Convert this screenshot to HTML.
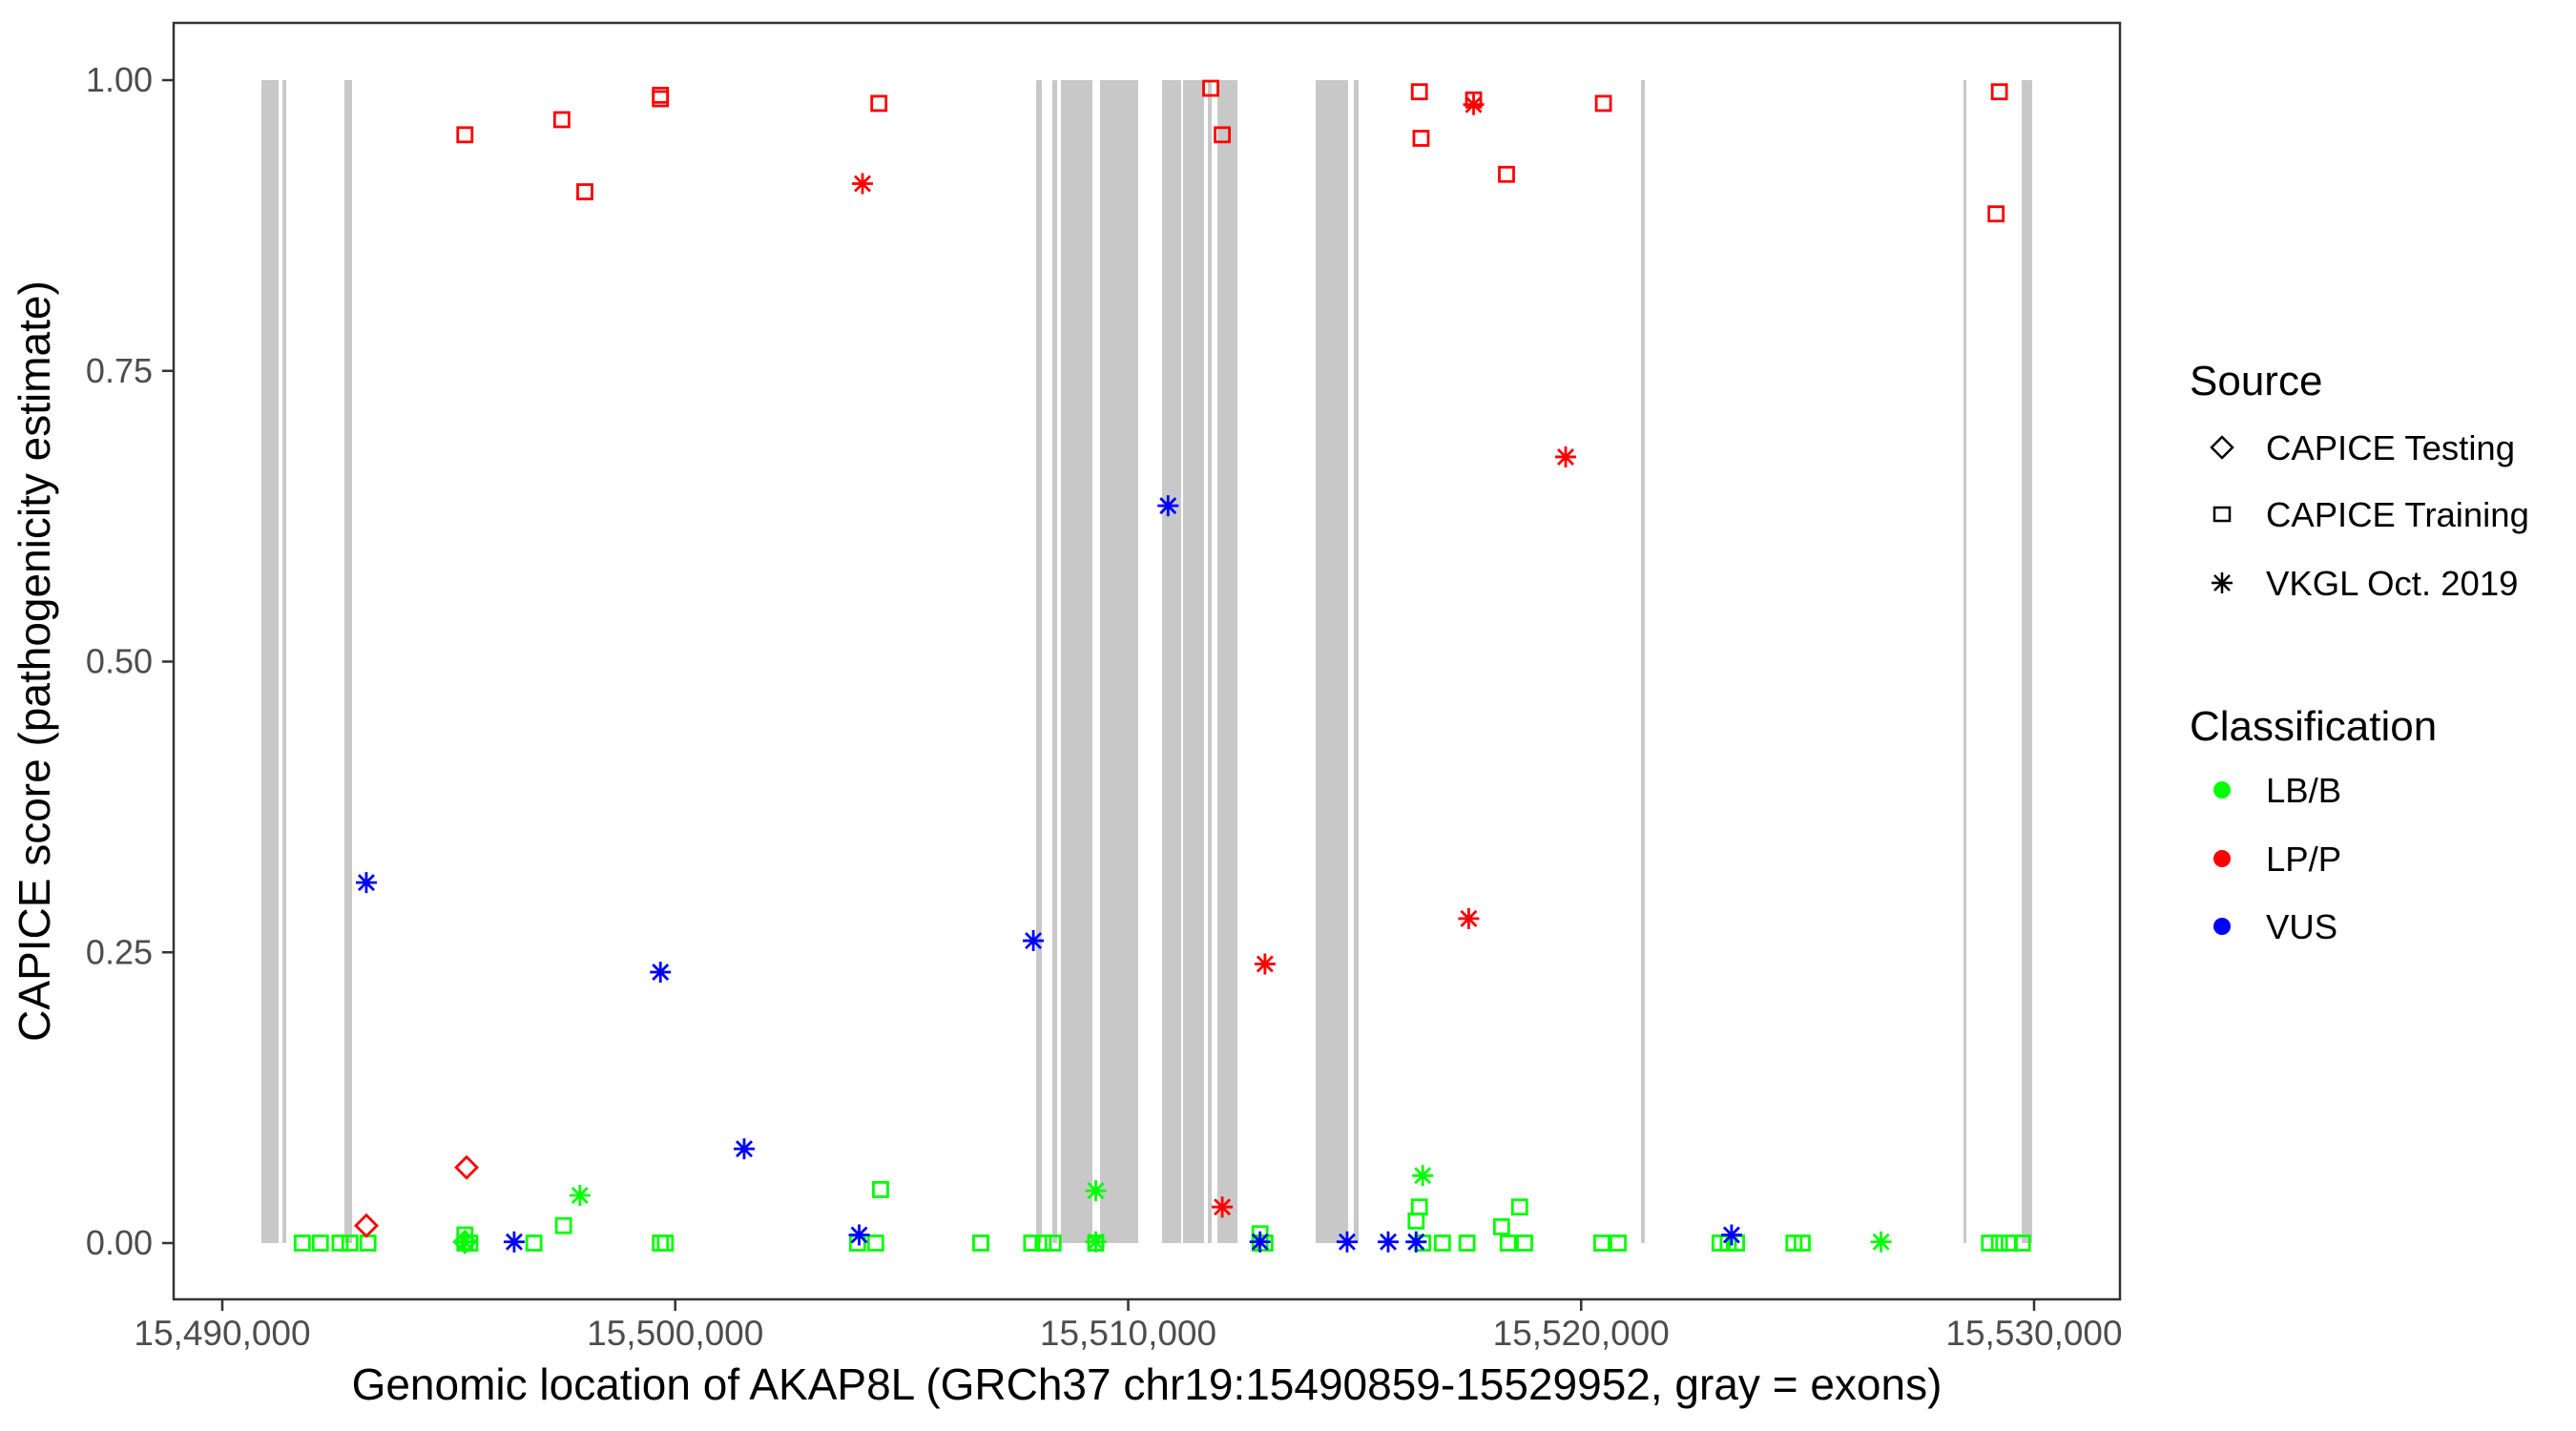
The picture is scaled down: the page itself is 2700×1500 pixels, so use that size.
<!DOCTYPE html>
<html><head><meta charset="utf-8"><style>
html,body{margin:0;padding:0;background:#fff;width:2700px;height:1500px;overflow:hidden}
svg{display:block;font-family:"Liberation Sans",Arial,sans-serif}
</style></head><body>
<svg id="chart" width="2700" height="1500" viewBox="0 0 2700 1500">
<rect x="0" y="0" width="2700" height="1500" fill="#fff"/>
<g id="exons"></g>
<g id="points"></g>
<rect x="182" y="24" width="2040" height="1338" fill="none" stroke="#333" stroke-width="2.5"/>
<g id="yaxis"></g>
<g id="xaxis"></g>
<text x="40" y="693" transform="rotate(-90 40 693)" text-anchor="middle" dominant-baseline="middle" font-size="46" fill="#000">CAPICE score (pathogenicity estimate)</text>
<text x="1202" y="1467" text-anchor="middle" font-size="46" fill="#000">Genomic location of AKAP8L (GRCh37 chr19:15490859-15529952, gray = exons)</text>
<g>
<text x="2295" y="414" font-size="44" fill="#000">Source</text>
<g>
<polygon points="2329,458 2340,469 2329,480 2318,469" fill="none" stroke="#000" stroke-width="2.5"/>
<text x="2375" y="482" font-size="36.5" fill="#000">CAPICE Testing</text></g>
<g>
<rect x="2321" y="532" width="16" height="14" fill="none" stroke="#000" stroke-width="2.5"/>
<text x="2375" y="552" font-size="36.5" fill="#000">CAPICE Training</text></g>
<g>
<path d="M2318,611 H2340 M2329,600 V622 M2321,603 L2337,619 M2337,603 L2321,619" stroke="#000" stroke-width="2.5"/>
<text x="2375" y="624" font-size="36.5" fill="#000">VKGL Oct. 2019</text></g>
<text x="2295" y="776" font-size="44" fill="#000">Classification</text>
<g><circle cx="2329" cy="828" r="9" fill="#00ff00"/><text x="2375" y="841" font-size="36.5" fill="#000">LB/B</text></g>
<g><circle cx="2329" cy="900" r="9" fill="#ff0000"/><text x="2375" y="913" font-size="36.5" fill="#000">LP/P</text></g>
<g><circle cx="2329" cy="971" r="9" fill="#0000ff"/><text x="2375" y="984" font-size="36.5" fill="#000">VUS</text></g>
</g>
</svg>
<script>
// Data (genomic position offsets from 15,490,000 and scores)
const exonStarts = [864,1327,2696,17968,18326,18515,19379,20748,21211,21759,21970,24139,24981,31322,38442,39727];
const exonEnds   = [1243,1411,2865,18094,18431,19210,20221,21169,21675,21843,22412,24855,25087,31407,38505,39959];
const yTicks = [0,0.25,0.5,0.75,1];
const yTickLabels = ["0.00","0.25","0.50","0.75","1.00"];
const xTicks = [15490000,15500000,15510000,15520000,15530000];
const xTickLabels = ["15,490,000","15,500,000","15,510,000","15,520,000","15,530,000"];

// LP/P (red)
const redSquarePos = [5356,7496,8004,9673,9673,14496,21823,22077,26429,26466,27626,28352,30492,39234,39161];
const redSquareScore = [0.953,0.966,0.904,0.987,0.984,0.980,0.993,0.953,0.990,0.950,0.983,0.919,0.980,0.990,0.885];
const redStarPos = [14134,27626,29658,27518,23020,22077];
const redStarScore = [0.911,0.979,0.676,0.279,0.240,0.031];
const redDiamondPos = [3180,5393];
const redDiamondScore = [0.015,0.065];
// VUS (blue)
const blueStarPos = [3180,9673,11522,17906,20880,6444,14061,22911,24833,25740,26357,33321];
const blueStarScore = [0.310,0.233,0.081,0.260,0.634,0.001,0.007,0.001,0.001,0.001,0.001,0.007];
// LB/B (green)
const greenStarPos = [7895,19284,26502,36622,5356,19284,26357];
const greenStarScore = [0.041,0.045,0.058,0.001,0.001,0.001,0.001];
const greenSquarePos = [1766,2165,2600,2817,3216,5356,5465,6880,9673,9781,14025,14424,16745,17870,18123,18341,19284,22911,23020,26502,26937,27481,28388,28751,30456,30818,33067,33248,33430,34699,34881,39016,39234,39451,39742,7533,14533,26429,26357,28243,28642,5356,22911];
const greenSquareScore = [0,0,0,0,0,0,0,0,0,0,0,0,0,0,0,0,0,0,0,0,0,0,0,0,0,0,0,0,0,0,0,0,0,0,0,0.015,0.046,0.031,0.019,0.014,0.031,0.007,0.008];
const greenDiamondPos = [5356];
const greenDiamondScore = [0.001];

const NS="http://www.w3.org/2000/svg";
const X0=15490000, PX0=233, PXPER=0.047475;
function xs(off){return PX0+off*PXPER;}
function xsAbs(bp){return PX0+(bp-X0)*PXPER;}
function ys(v){return 1303-v*1219;}
function mk(tag,attrs,parent){const e=document.createElementNS(NS,tag);for(const k in attrs)e.setAttribute(k,attrs[k]);parent.appendChild(e);return e;}

const gEx=document.getElementById('exons');
for(let i=0;i<exonStarts.length;i++){
  const x1=xs(exonStarts[i]),x2=xs(exonEnds[i]);
  const r=mk('rect',{x:x1,y:ys(1),width:Math.max(x2-x1,2),height:ys(0)-ys(1),fill:'#c8c8c8'},gEx);
  
  
}
const gP=document.getElementById('points');
function square(x,y,c){const e=mk('rect',{x:x-7.5,y:y-7.5,width:15,height:15,fill:'none',stroke:c,'stroke-width':2.8},gP);
  
  }
function star(x,y,c){const s=11,d=8;const e=mk('path',{d:`M${x-s},${y} H${x+s} M${x},${y-s} V${y+s} M${x-d},${y-d} L${x+d},${y+d} M${x+d},${y-d} L${x-d},${y+d}`,stroke:c,'stroke-width':2.8,fill:'none'},gP);
  
  }
function diamond(x,y,c){const s=11;const e=mk('polygon',{points:`${x},${y-s} ${x+s},${y} ${x},${y+s} ${x-s},${y}`,fill:'none',stroke:c,'stroke-width':2.8},gP);
  
  }
greenSquarePos.forEach((p,i)=>square(xs(p),ys(greenSquareScore[i]),'#00ff00'));
greenDiamondPos.forEach((p,i)=>diamond(xs(p),ys(greenDiamondScore[i]),'#00ff00'));
greenStarPos.forEach((p,i)=>star(xs(p),ys(greenStarScore[i]),'#00ff00'));
redSquarePos.forEach((p,i)=>square(xs(p),ys(redSquareScore[i]),'#ff0000'));
redDiamondPos.forEach((p,i)=>diamond(xs(p),ys(redDiamondScore[i]),'#ff0000'));
redStarPos.forEach((p,i)=>star(xs(p),ys(redStarScore[i]),'#ff0000'));
blueStarPos.forEach((p,i)=>star(xs(p),ys(blueStarScore[i]),'#0000ff'));

const gY=document.getElementById('yaxis');
yTicks.forEach((v,i)=>{
  const l=mk('line',{x1:170,x2:182,y1:ys(v),y2:ys(v),stroke:'#333','stroke-width':2.5},gY);
  
  
  const t=mk('text',{x:160,y:ys(v)+12,'text-anchor':'end','font-size':36,fill:'#4d4d4d'},gY);
  t.textContent=yTickLabels[i];
  
  
});
const gX=document.getElementById('xaxis');
xTicks.forEach((v,i)=>{
  const x=xsAbs(v);
  const l=mk('line',{x1:x,x2:x,y1:1362,y2:1374,stroke:'#333','stroke-width':2.5},gX);
  
  
  const t=mk('text',{x:x,y:1410,'text-anchor':'middle','font-size':37,fill:'#4d4d4d'},gX);
  t.textContent=xTickLabels[i];
  
  
});
</script>
</body></html>
